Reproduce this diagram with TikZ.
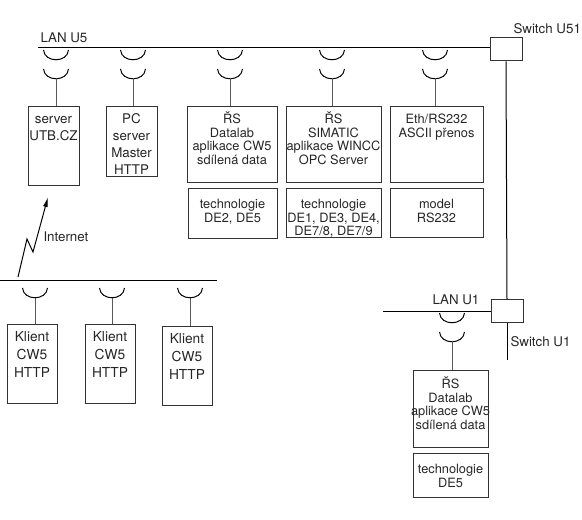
\documentclass[tikz,border=0pt]{standalone}
\usepackage{fontspec}
\setmainfont{TeX Gyre Heros}
\usetikzlibrary{arrows.meta}

\newcommand{\topstrut}{\rule{0pt}{0.95em}}

\tikzset{every picture/.style={line width=0.75pt}}
\tikzset{
  box/.style 2 args={draw=black!80, inner sep=0pt, minimum width=#1*0.75pt, minimum height=#2*0.75pt},
  small/.style={font=\fontsize{9.6}{10.3}\selectfont},
  tall/.style={font=\fontsize{10}{12.75}\selectfont},
  klient/.style={font=\fontsize{10.3}{13.5}\selectfont},
  boxtext/.style={anchor=north, inner sep=0pt, align=center, black!85},
  wire/.style={draw=black!65},
  lbl/.style={anchor=west, inner sep=0pt, black!85, font=\fontsize{10}{12}\selectfont},
  % pics do not keep yscale=-1, so y goes up here
  cup/.pic={\draw (-12.5,0) .. controls (-11.5,-13) and (11.5,-13) .. (12.5,0);
            \coordinate (-end) at (0,-10);},
  plug/.pic={\draw (-12.5,-2) .. controls (-11.5,-15) and (11.5,-15) .. (12.5,-2);
             \draw (-12.5,-21) .. controls (-11.5,-34) and (11.5,-34) .. (12.5,-21);
             \coordinate (-end) at (0,-30);},
}

\begin{document}
\begin{tikzpicture}[x=0.75pt,y=0.75pt,yscale=-1,xscale=1]
\useasboundingbox (0,0) rectangle (582,520);

%Switches
\node[box={32}{23}] (sw5) at (506,49.5) {};
\node[box={32}{23}] (sw1) at (507,311.5) {};
\draw (sw5.south) -- (sw1.north);
\coordinate (sw1end) at (507,360);
\draw (sw1.south) -- (sw1end);

%LAN U5
\coordinate (lan5) at (38,48);
\draw (lan5) -- (lan5 -| sw5.west);
%LAN U1
\coordinate (lan1) at (383,312);
\draw (lan1) -- (lan1 -| sw1.west);
%Internet side
\coordinate (net0) at (0,281);
\coordinate (net1) at (217,281);
\draw (net0) -- (net1);

% Text Node
\node[lbl] (lan5t) at (40,38) {LAN U5};
\node[lbl] (sw5t) at (513,29) {Switch U51};
\node[lbl] (lan1t) at (432,300) {LAN U1};
\node[lbl] (sw1t) at (510,342) {Switch U1};
\node[lbl] (inett) at (43,237) {Internet};

%Boxes on LAN U5
\node[box={51}{79}] (srv) at (53.5,146.5) {};
\node[box={51}{70}] (pc) at (131.5,142) {};
\node[box={90}{76}] (rs5) at (232,145) {};
\node[box={89}{50}] (tech5) at (232.5,214) {};
\node[box={95}{76}] (sim) at (333.5,145) {};
\node[box={95}{49}] (tech2) at (333.5,213.5) {};
\node[box={93}{76}] (eth) at (436.5,145) {};
\node[box={93}{49}] (model) at (436.5,213.5) {};

% Text Node
\node[boxtext,tall] (srvt) at (53.5,110.3) {\topstrut server\\UTB.CZ};
\node[boxtext,tall] (pct) at (131.5,110.3) {\topstrut PC\\server\\Master\\HTTP};
\node[boxtext,small] (rs5t) at (232,110.8) {\topstrut ŘS\\Datalab\\aplikace CW5\\sdílená data};
\node[boxtext,small] (tech5t) at (232.5,195.8) {\topstrut technologie\\DE2, DE5};
\node[boxtext,small] (simt) at (333.5,110.8) {\topstrut ŘS\\SIMATIC\\aplikace WINCC\\OPC Server};
\node[boxtext,small] (tech2t) at (333.5,195.8) {\topstrut technologie\\DE1, DE3, DE4,\\DE7/8, DE7/9};
\node[boxtext,small] (etht) at (436.5,110.8) {\topstrut Eth/RS232\\ASCII přenos};
\node[boxtext,small] (modelt) at (436.5,195.8) {\topstrut model\\RS232};

%Plugs on LAN U5
\pic (p1) at (56,48) {plug};
\pic (p2) at (133,48) {plug};
\pic (p3) at (230,48) {plug};
\pic (p4) at (332,48) {plug};
\pic (p5) at (435,48) {plug};
\draw[wire] (p1-end) -- (p1-end |- srv.north);
\draw[wire] (p2-end) -- (p2-end |- pc.north);
\draw[wire] (p3-end) -- (p3-end |- rs5.north);
\draw[wire] (p4-end) -- (p4-end |- sim.north);
\draw[wire] (p5-end) -- (p5-end |- eth.north);

%Boxes on LAN U1
\node[box={75}{77}] (rs1) at (450.5,408.5) {};
\node[box={75}{44}] (tech1) at (450.5,475) {};
\node[boxtext,small] (rs1t) at (450.5,375.8) {\topstrut ŘS\\Datalab\\aplikace CW5\\sdílená data};
\node[boxtext,small] (tech1t) at (450.5,460.8) {\topstrut technologie\\DE5};
\pic (p6) at (452,311) {plug};
\draw[wire] (p6-end) -- (p6-end |- rs1.north);

%Klient boxes
\node[box={50}{78}] (kl1) at (32,364) {};
\node[box={50}{78}] (kl2) at (110,364) {};
\node[box={50}{78}] (kl3) at (187,366) {};
\node[boxtext,klient] (kl1t) at (32,328) {\topstrut Klient\\CW5\\HTTP};
\node[boxtext,klient] (kl2t) at (110,328) {\topstrut Klient\\CW5\\HTTP};
\node[boxtext,klient] (kl3t) at (187,330) {\topstrut Klient\\CW5\\HTTP};
\pic (c1) at (35,288) {cup};
\pic (c2) at (112,288) {cup};
\pic (c3) at (190,288) {cup};
\draw[wire] (c1-end) -- (c1-end |- kl1.north);
\draw[wire] (c2-end) -- (c2-end |- kl2.north);
\draw[wire] (c3-end) -- (c3-end |- kl3.north);

%Internet link
\coordinate (inet0) at (18,277);
\coordinate (inet1) at (48,197);
\draw[-{Latex[length=7.5pt,width=3.5pt]}] (inet0) -- (27,239) -- (33,252) -- (inet1);

\end{tikzpicture}
\end{document}
